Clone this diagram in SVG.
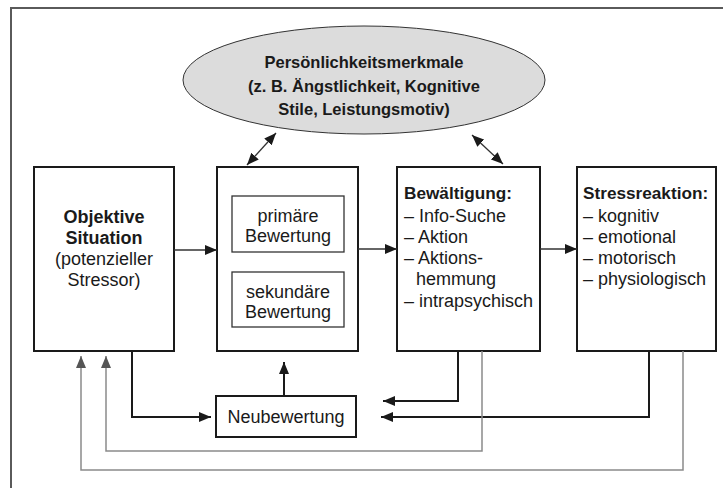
<svg xmlns="http://www.w3.org/2000/svg" width="723" height="488" viewBox="0 0 723 488">
<defs>
<style>
text{font-family:"Liberation Sans",Arial,sans-serif;font-size:18px;fill:#1a1a1a}
.e{font-size:16.5px}
.t{font-size:17.2px}
.b{font-weight:bold}
.c{text-anchor:middle}
.box{fill:#fff;stroke:#1a1a1a;stroke-width:2}
.inner{fill:#fff;stroke:#333;stroke-width:1.3}
.thin{fill:none;stroke:#333;stroke-width:1.3}
.thick{fill:none;stroke:#1a1a1a;stroke-width:2}
.gray{fill:none;stroke:#8a8a8a;stroke-width:1.5}
</style>
<marker id="ah" viewBox="0 0 12 10" refX="12" refY="5" markerWidth="12" markerHeight="10" markerUnits="userSpaceOnUse" orient="auto-start-reverse"><path d="M0,0 L12,5 L0,10 Z" fill="#1a1a1a"/></marker>
<marker id="ahg" viewBox="0 0 12 10" refX="12" refY="5" markerWidth="12" markerHeight="10" markerUnits="userSpaceOnUse" orient="auto"><path d="M0,0 L12,5 L0,10 Z" fill="#555"/></marker>
</defs>
<rect width="723" height="488" fill="#fff"/>
<path d="M11,488 V8 H723" fill="none" stroke="#5a5a5a" stroke-width="2"/>

<g id="persoenlichkeit">
<ellipse cx="364" cy="80" rx="181" ry="54" fill="#dcdcdc" stroke="#333" stroke-width="1"/>
<text class="b c e" x="364" y="68">Persönlichkeitsmerkmale</text>
<text class="b c e" x="364" y="92">(z. B. Ängstlichkeit, Kognitive</text>
<text class="b c e" x="364" y="115">Stile, Leistungsmotiv)</text>
</g>

<g id="situation">
<rect class="box" x="34" y="167" width="140" height="184"/>
<text class="b c" x="104" y="223">Objektive</text>
<text class="b c" x="104" y="244">Situation</text>
<text class="c" x="104" y="265">(potenzieller</text>
<text class="c" x="104" y="286">Stressor)</text>
</g>

<g id="bewertung">
<rect class="box" x="217" y="167" width="141" height="184"/>
<rect class="inner" x="232" y="196" width="112" height="56"/>
<text class="c" x="288" y="222">primäre</text>
<text class="c" x="288" y="242">Bewertung</text>
<rect class="inner" x="232" y="272" width="112" height="55"/>
<text class="c" x="288" y="298">sekundäre</text>
<text class="c" x="288" y="318">Bewertung</text>
</g>

<g id="bewaeltigung">
<rect class="box" x="397" y="167" width="143" height="184"/>
<text class="b t" x="404" y="199">Bewältigung:</text>
<text x="404" y="222">– Info-Suche</text>
<text x="404" y="243">– Aktion</text>
<text x="404" y="264">– Aktions-</text>
<text x="416" y="285">hemmung</text>
<text x="404" y="307">– intrapsychisch</text>
</g>

<g id="stressreaktion">
<rect class="box" x="577" y="167" width="139" height="184"/>
<text class="b t" x="583" y="199">Stressreaktion:</text>
<text x="583" y="222">– kognitiv</text>
<text x="583" y="243">– emotional</text>
<text x="583" y="264">– motorisch</text>
<text x="583" y="285">– physiologisch</text>
</g>

<g id="neubewertung">
<rect class="box" x="216" y="396" width="140" height="41"/>
<text class="c" x="286" y="423">Neubewertung</text>
</g>

<g id="connectors">
<line class="thin" x1="276" y1="133" x2="247" y2="165" marker-start="url(#ah)" marker-end="url(#ah)"/>
<line class="thin" x1="472" y1="135" x2="503" y2="164" marker-start="url(#ah)" marker-end="url(#ah)"/>
<line class="thin" x1="174" y1="250" x2="217" y2="250" marker-end="url(#ah)"/>
<line class="thin" x1="358" y1="249" x2="397" y2="249" marker-end="url(#ah)"/>
<line class="thin" x1="540" y1="249" x2="577" y2="249" marker-end="url(#ah)"/>
<path class="thick" d="M132,351 V417 H211" marker-end="url(#ah)"/>
<path class="thick" d="M284,396 V362" marker-end="url(#ah)"/>
<path class="thick" d="M458,351 V401 H383" marker-end="url(#ah)"/>
<path class="thick" d="M649,351 V417 H381" marker-end="url(#ah)"/>
<path class="gray" d="M482,351 V451 H106 V356" marker-end="url(#ahg)"/>
<path class="gray" d="M683,351 V470 H81 V356" marker-end="url(#ahg)"/>
</g>
</svg>
